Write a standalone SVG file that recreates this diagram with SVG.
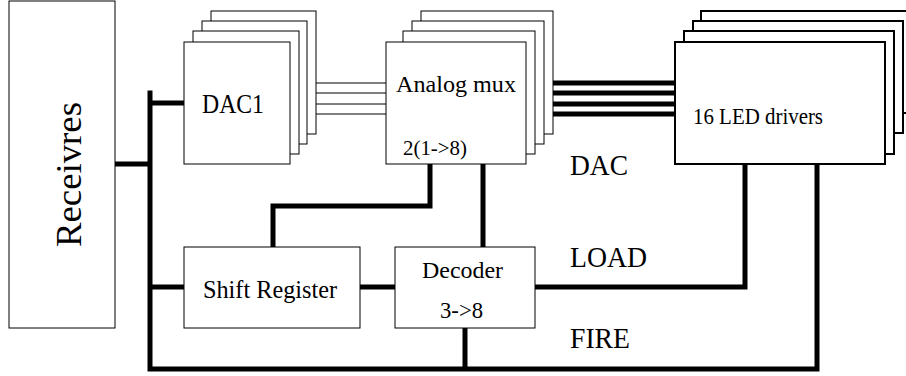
<svg xmlns="http://www.w3.org/2000/svg" width="906" height="376" viewBox="0 0 906 376">
<style>
.box{fill:#fff;stroke:#000;stroke-width:1}
.led{fill:#fff;stroke:#000;stroke-width:2}
.thin{fill:none;stroke:#000;stroke-width:1}
.bus{fill:none;stroke:#000;stroke-width:5;stroke-linejoin:miter;stroke-linecap:square}
text{font-family:"Liberation Serif","Times New Roman",serif;fill:#000}
</style>
<rect width="906" height="376" fill="#fff"/>
<g id="connectors">
<path class="bus" d="M115,164H150 M150,93V369H817V164 M150,103H184 M150,287H184 M360,287H395 M535,287H745V164 M465,328V369 M273,247V206H430V164 M483,164V247"/>
<path class="thin" d="M316,83H386 M307,93H386 M299,104H386 M290,114H386"/>
<path class="bus" style="stroke-linecap:butt" d="M553,83H675 M544,93H675 M535,104H675 M526,114H675"/>
</g>
<g id="receivres">
<rect class="box" x="9" y="1" width="106" height="327"/>
<text transform="translate(81,174.5) rotate(-90)" font-size="35" text-anchor="middle" textLength="145" lengthAdjust="spacingAndGlyphs">Receivres</text>
</g>
<g id="dac1">
<rect class="box" x="211" y="11" width="105" height="123"/>
<rect class="box" x="202" y="21" width="105" height="123"/>
<rect class="box" x="193" y="31" width="106" height="123"/>
<rect class="box" x="184" y="42" width="106" height="122"/>
<text x="202" y="113" font-size="27" textLength="62" lengthAdjust="spacingAndGlyphs">DAC1</text>
</g>
<g id="analog-mux">
<rect class="box" x="421" y="11" width="132" height="123"/>
<rect class="box" x="412" y="21" width="132" height="123"/>
<rect class="box" x="403" y="31" width="132" height="123"/>
<rect class="box" x="386" y="42" width="140" height="122"/>
<text x="396" y="92" font-size="24" textLength="120" lengthAdjust="spacingAndGlyphs">Analog mux</text>
<text x="403" y="155" font-size="21" textLength="64" lengthAdjust="spacingAndGlyphs">2(1-&gt;8)</text>
</g>
<g id="led-drivers">
<rect class="led" x="701" y="11" width="220" height="102"/>
<rect class="led" x="693" y="21" width="210" height="112"/>
<rect class="led" x="684" y="31" width="210" height="123"/>
<rect class="led" x="675" y="42" width="210" height="122"/>
<text x="693" y="124" font-size="24" textLength="130" lengthAdjust="spacingAndGlyphs">16 LED drivers</text>
</g>
<g id="shift-register">
<rect class="box" x="184" y="247" width="176" height="81"/>
<text x="203" y="298" font-size="26" textLength="134" lengthAdjust="spacingAndGlyphs">Shift Register</text>
</g>
<g id="decoder">
<rect class="box" x="395" y="247" width="140" height="81"/>
<text x="422" y="278" font-size="24" textLength="81" lengthAdjust="spacingAndGlyphs">Decoder</text>
<text x="440" y="318" font-size="23" textLength="43" lengthAdjust="spacingAndGlyphs">3-&gt;8</text>
</g>
<g id="labels">
<text x="570" y="175" font-size="30" textLength="58" lengthAdjust="spacingAndGlyphs">DAC</text>
<text x="570" y="267" font-size="30" textLength="77" lengthAdjust="spacingAndGlyphs">LOAD</text>
<text x="570" y="348" font-size="30" textLength="60" lengthAdjust="spacingAndGlyphs">FIRE</text>
</g>
</svg>
